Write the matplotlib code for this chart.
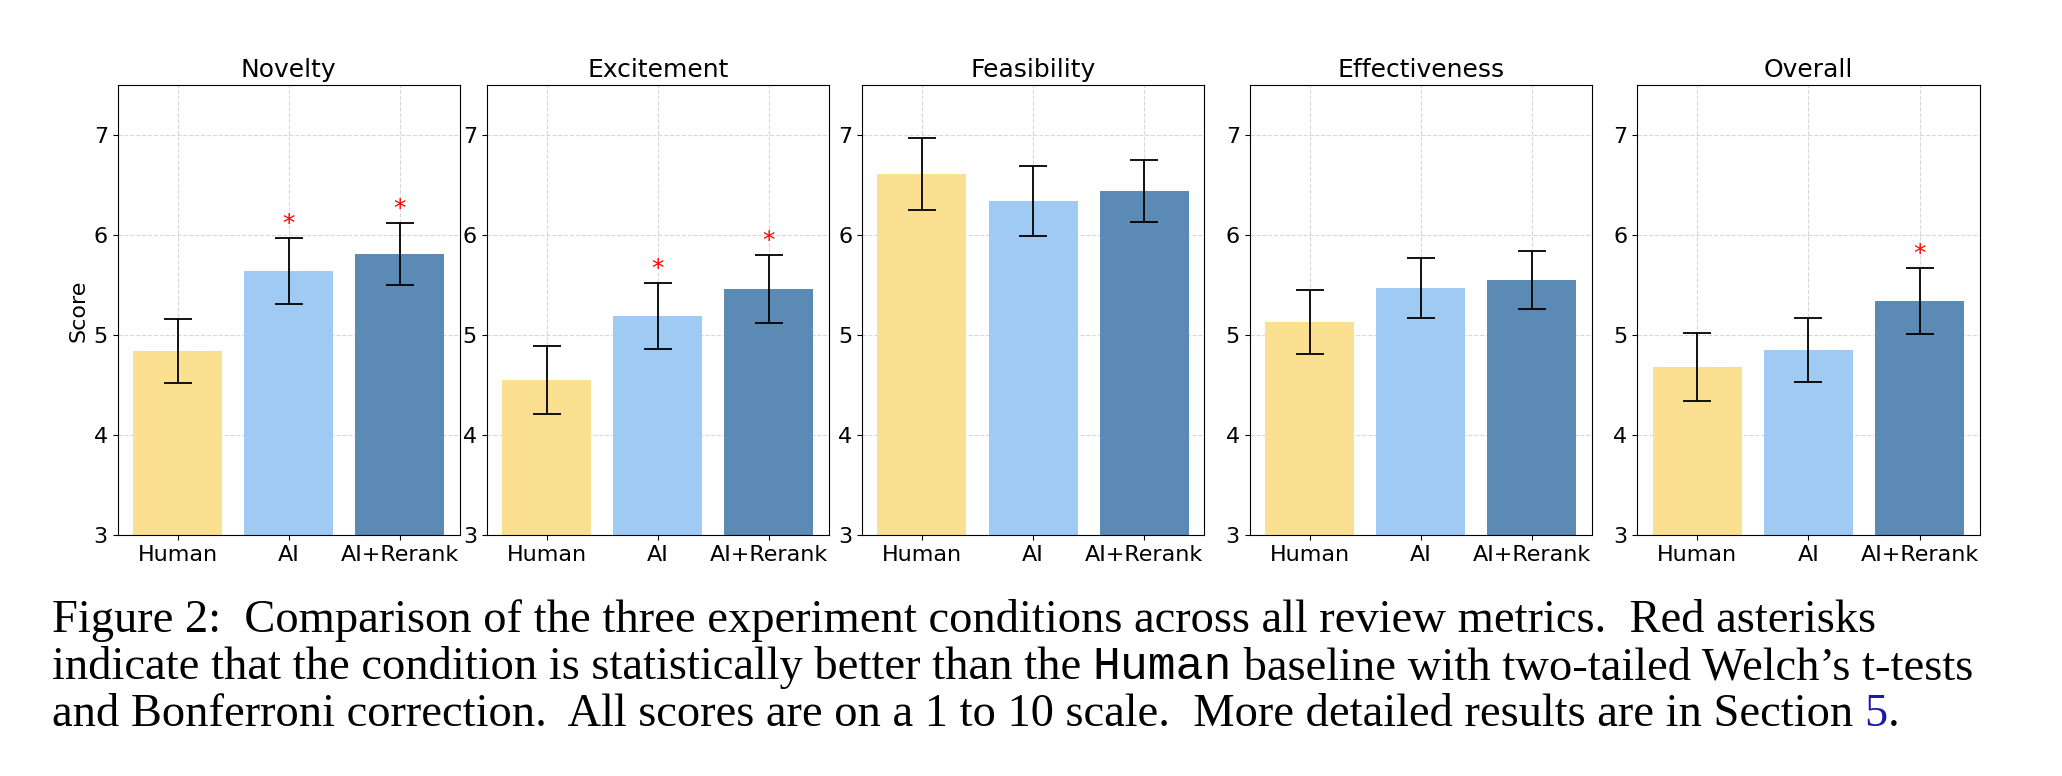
import matplotlib
matplotlib.use('Agg')
import matplotlib.pyplot as plt

metrics = ['Novelty', 'Excitement', 'Feasibility', 'Effectiveness', 'Overall']
conditions = ['Human', 'AI', 'AI+Rerank']
means = [
    [4.84, 5.64, 5.81],
    [4.55, 5.19, 5.46],
    [6.61, 6.34, 6.44],
    [5.13, 5.47, 5.55],
    [4.68, 4.85, 5.34],
]
errs = [
    [0.32, 0.33, 0.31],
    [0.34, 0.33, 0.34],
    [0.36, 0.35, 0.31],
    [0.32, 0.30, 0.29],
    [0.34, 0.32, 0.33],
]
signif = [
    [False, True, True],
    [False, True, True],
    [False, False, False],
    [False, False, False],
    [False, False, True],
]
colors = ['#FBE092', '#9FCAF3', '#5B8AB4']

fig = plt.figure(figsize=(20.62, 7.76), dpi=100)
lefts = [0.057, 0.236, 0.418, 0.606, 0.794]
width = 0.166
for i, m in enumerate(metrics):
    ax = fig.add_axes([lefts[i], 0.31, width, 0.58])
    x = range(len(conditions))
    ax.bar(x, means[i], color=colors, width=0.8, zorder=2)
    ax.errorbar(x, means[i], yerr=errs[i], fmt='none', ecolor='black',
                capsize=10, lw=1.3, capthick=1.3, zorder=3)
    for j, s in enumerate(signif[i]):
        if s:
            ax.text(j, means[i][j] + errs[i][j] + 0.02, '*', color='red',
                    ha='center', va='bottom', fontsize=18)
    ax.set_ylim(3, 7.5)
    ax.set_yticks([3, 4, 5, 6, 7])
    ax.set_xticks(list(x))
    ax.set_xticklabels(conditions)
    ax.tick_params(labelsize=16)
    ax.grid(True, ls='--', alpha=0.5, zorder=0)
    ax.set_axisbelow(True)
    ax.set_title(m, fontsize=18)
    if i == 0:
        ax.set_ylabel('Score', fontsize=16)

# caption
serif = 'Liberation Serif'
fs = 33.5
lines = [
    [('Figure 2:  Comparison of the three experiment conditions across all review metrics.  Red asterisks', serif, 'black')],
    [('indicate that the condition is statistically better than the ', serif, 'black'),
     ('Human', 'Liberation Mono', 'black'),
     (' baseline with two-tailed Welch\u2019s t-tests', serif, 'black')],
    [('and Bonferroni correction.  All scores are on a 1 to 10 scale.  More detailed results are in Section ', serif, 'black'),
     ('5', serif, '#1a1aaa'), ('.', serif, 'black')],
]
ys = [0.185, 0.125, 0.065]
fig.canvas.draw()
r = fig.canvas.get_renderer()
for line, y in zip(lines, ys):
    xpos = 0.025
    for txt, fam, col in line:
        t = fig.text(xpos, y, txt, fontsize=fs, family=fam, color=col,
                     va='baseline')
        bb = t.get_window_extent(renderer=r)
        xpos += bb.width / fig.bbox.width

fig.savefig('out.png', dpi=100)
